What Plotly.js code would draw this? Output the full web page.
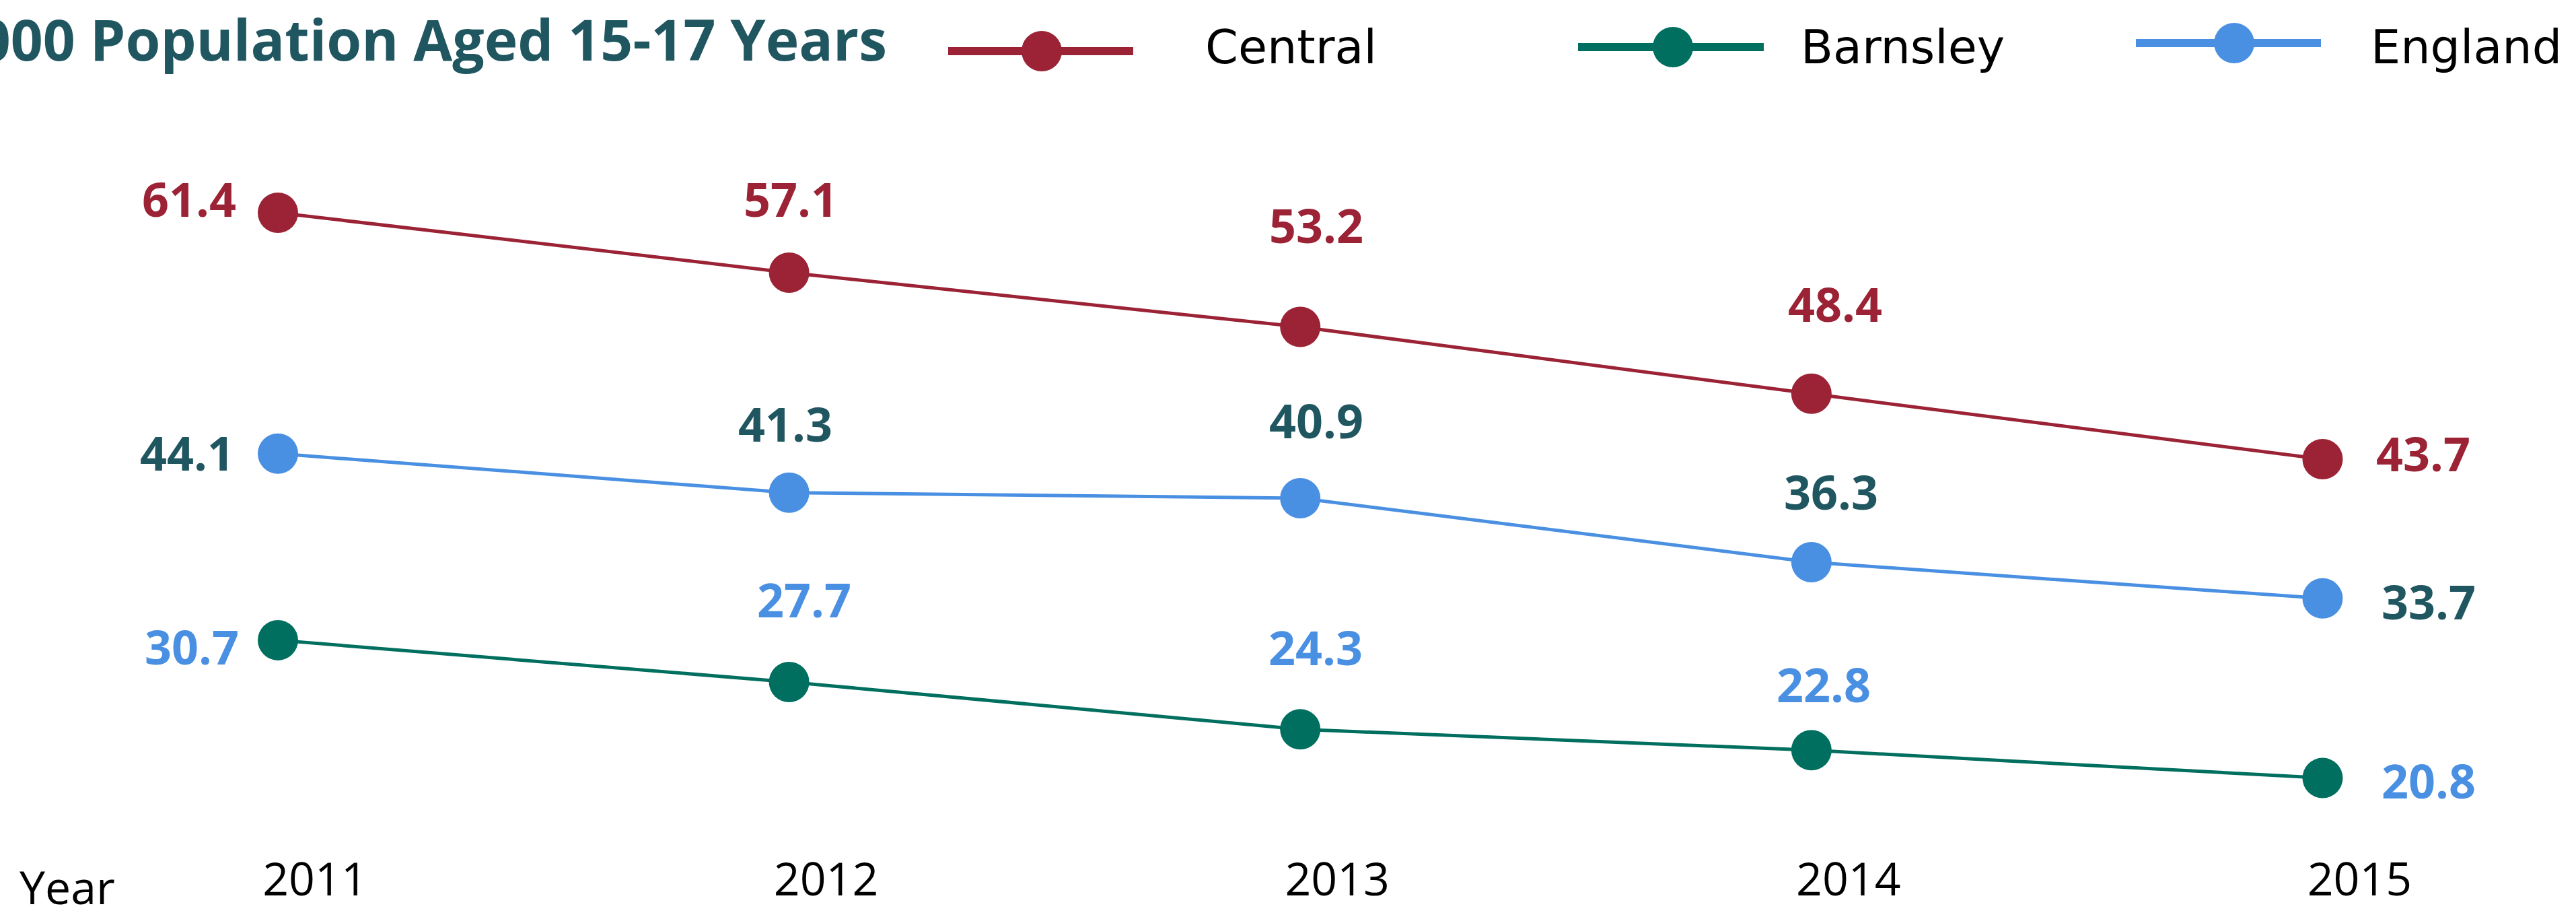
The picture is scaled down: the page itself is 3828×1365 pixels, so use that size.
<!DOCTYPE html>
<html>
<head>
<meta charset="utf-8">
<script src="https://cdn.plot.ly/plotly-3.0.1.min.js"></script>
<style>html,body{margin:0;padding:0;background:#fff;overflow:hidden}</style>
</head>
<body>
<div id="chart" style="width:3828px;height:1365px"></div>
<script>
// ---- data ----
const years = [2011, 2012, 2013, 2014, 2015];
const yearLabels = ['2011', '2012', '2013', '2014', '2015'];
const central = [61.4, 57.1, 53.2, 48.4, 43.7];
const barnsley = [30.7, 27.7, 24.3, 22.8, 20.8];
const england = [44.1, 41.3, 40.9, 36.3, 33.7];
const seriesNames = ['Central', 'Barnsley', 'England'];
const titleText = 'Under-18 Conceptions per 1,000 Population Aged 15-17 Years';
const xAxisLabel = 'Year';

// ---- styling ----
const W = 3828, H = 1365, MB = 104, PH = H - MB;
const lineColors = {Central: '#9B2335', Barnsley: '#006F5F', England: '#4A90E2'};
const labelColors = {Central: '#9B2335', Barnsley: '#4A90E2', England: '#1F5660'};
const seriesValues = {Central: central, Barnsley: barnsley, England: england};
// label placement per point: [xshift px, yshift px (up), xanchor]
const labelPlacement = {
  Central:  [[-60, 21, 'right'], [2, 110, 'center'], [24, 152, 'center'], [35, 134, 'center'], [78, 9, 'left']],
  England:  [[-63, 2, 'right'], [-6, 103, 'center'], [24, 116, 'center'], [29, 105, 'center'], [86, -4, 'left']],
  Barnsley: [[-56, -9, 'right'], [22, 123, 'center'], [23, 122, 'center'], [18, 98, 'center'], [86, -3, 'left']]
};
// legend geometry (px from top-left)
const legendGeom = {
  Central:  {x0: 1409, x1: 1684, mx: 1548, y: 76, tx: 1789},
  Barnsley: {x0: 2345, x1: 2621, mx: 2486, y: 70, tx: 2674},
  England:  {x0: 3174, x1: 3449, mx: 3320, y: 64, tx: 3521}
};
const px = v => v / W;
const py = v => 1 - v / PH;

const traces = seriesNames.map(name => ({
  type: 'scatter',
  mode: 'lines+markers',
  name: name,
  x: years,
  y: seriesValues[name],
  line: {color: lineColors[name], width: 5},
  marker: {color: lineColors[name], size: 60},
  cliponaxis: false,
  showlegend: false,
  hoverinfo: 'x+y+name'
}));

const annotations = [];
seriesNames.forEach(name => {
  seriesValues[name].forEach((v, i) => {
    const p = labelPlacement[name][i];
    annotations.push({
      xref: 'x', yref: 'y', x: years[i], y: v,
      text: v.toFixed(1), showarrow: false,
      xanchor: p[2], yanchor: 'middle', xshift: p[0], yshift: p[1],
      font: {family: 'Open Sans, sans-serif', size: 70, weight: 700, color: labelColors[name]}
    });
  });
});

const shapes = [];
seriesNames.forEach(name => {
  const g = legendGeom[name];
  shapes.push({type: 'line', xref: 'paper', yref: 'paper',
    x0: px(g.x0), x1: px(g.x1), y0: py(g.y), y1: py(g.y),
    line: {color: lineColors[name], width: 12}});
  shapes.push({type: 'circle', xref: 'paper', yref: 'paper',
    xsizemode: 'pixel', ysizemode: 'pixel',
    xanchor: px(g.mx), yanchor: py(g.y), x0: -30, x1: 30, y0: -30, y1: 30,
    fillcolor: lineColors[name], line: {width: 0}});
  annotations.push({xref: 'paper', yref: 'paper', x: px(g.tx), y: py(70),
    xanchor: 'left', yanchor: 'middle', showarrow: false, text: name,
    font: {family: 'DejaVu Sans, sans-serif', size: 70, color: '#000000'}});
});

annotations.push({xref: 'paper', yref: 'paper', x: px(27), y: py(1316),
  xanchor: 'left', yanchor: 'middle', showarrow: false, text: xAxisLabel,
  font: {family: 'Open Sans, sans-serif', size: 68, color: '#000000'}});

// y range chosen so that plot area (0..PH px) maps 61.4 -> 316px at 20.68 px/unit
const yTop = 61.4 + 316 / 20.68;
const yBottom = 61.4 - (PH - 316) / 20.68;

const layout = {
  width: W, height: H,
  margin: {l: 0, r: 0, t: 0, b: MB, pad: 0},
  paper_bgcolor: '#ffffff', plot_bgcolor: '#ffffff',
  title: {
    text: titleText, xref: 'container', yref: 'container',
    x: 1318 / W, xanchor: 'right', y: 1 - 61 / H, yanchor: 'middle',
    font: {family: 'Open Sans, sans-serif', size: 84, weight: 700, color: '#1F5660'}
  },
  xaxis: {
    range: [2010.4563, 2015.4957], tickvals: years, ticktext: yearLabels,
    showgrid: false, zeroline: false, showline: false, ticks: '',
    ticklabelshift: 55,
    tickfont: {family: 'Open Sans, sans-serif', size: 68, color: '#000000'}
  },
  yaxis: {range: [yBottom, yTop], visible: false, showgrid: false, zeroline: false},
  showlegend: false,
  shapes: shapes,
  annotations: annotations
};

Plotly.newPlot('chart', traces, layout, {displayModeBar: false, responsive: false});
</script>
</body>
</html>
